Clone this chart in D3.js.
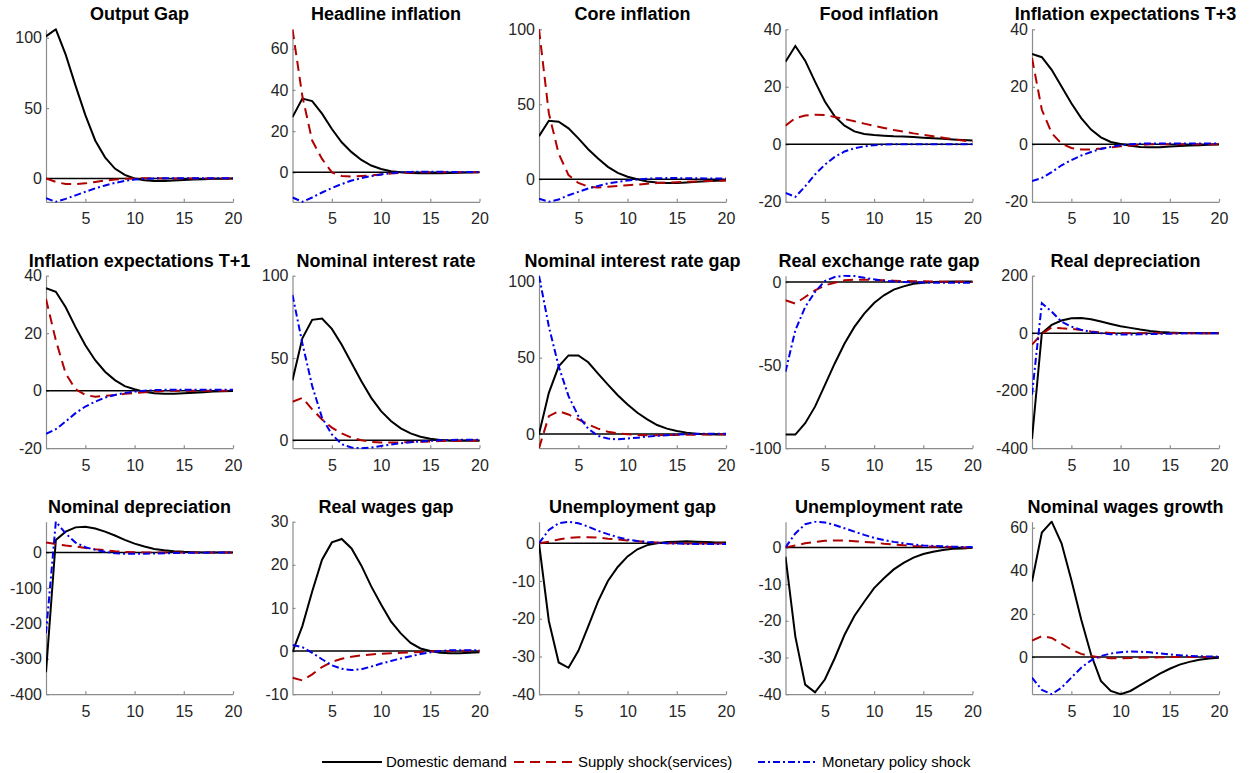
<!DOCTYPE html>
<html>
<head>
<meta charset="utf-8">
<script src="https://cdn.jsdelivr.net/npm/d3@7"></script>
<style>
body { margin: 0; background: #fff; }
svg { font-family: "Liberation Sans", Arial, sans-serif; }
.tick text { fill: #262626; font-size: 16px; }
.domain, .tick line { stroke: #8c8c8c; stroke-width: 1.2; }
</style>
</head>
<body>
<svg width="1252" height="773"></svg>
<script>
var titles = ["Output Gap", "Headline inflation", "Core inflation", "Food inflation", "Inflation expectations T+3",
    "Inflation expectations T+1", "Nominal interest rate", "Nominal interest rate gap", "Real exchange rate gap", "Real depreciation",
    "Nominal depreciation", "Real wages gap", "Unemployment gap", "Unemployment rate", "Nominal wages growth"];

var periods = d3.range(1, 21);
var xTicks = [5, 10, 15, 20];

var yLow  = [-16.6, -14.3, -15.1, -20, -20, -20, -4.8, -9.3, -100, -400, -400, -10, -40, -40, -17.2];
var yHigh = [106, 69.4, 100, 40, 40, 40, 100, 103.7, 3.8, 200, 87, 30, 5.7, 7, 62.8];
var yTicks = [[0, 50, 100], [0, 20, 40, 60], [0, 50, 100], [-20, 0, 20, 40], [-20, 0, 20, 40],
    [-20, 0, 20, 40], [0, 50, 100], [0, 50, 100], [-100, -50, 0], [-400, -200, 0, 200],
    [-400, -300, -200, -100, 0], [-10, 0, 10, 20, 30], [-40, -30, -20, -10, 0], [-40, -30, -20, -10, 0], [0, 20, 40, 60]];

// Domestic demand
var demand = [
    [101, 106, 88, 66, 45, 27, 15, 7, 2.5, 0, -1.3, -1.8, -1.8, -1.5, -1.1, -0.8, -0.5, -0.3, -0.2, -0.1],
    [26.8, 35.8, 34.6, 28.5, 21, 14.6, 9.8, 6, 3.3, 1.6, 0.5, 0, -0.3, -0.5, -0.5, -0.4, -0.3, -0.2, -0.1, 0],
    [28.7, 39, 38.3, 33.9, 27.2, 20, 13.8, 8.2, 4.2, 1.6, 0, -1.5, -2.3, -2.5, -2.5, -2.2, -1.8, -1.4, -1, -0.7],
    [28.7, 34.2, 29.1, 21.8, 14.9, 9.7, 6.5, 4.5, 3.6, 3.2, 3, 2.8, 2.7, 2.5, 2.3, 2.1, 1.9, 1.7, 1.5, 1.3],
    [31.4, 30.3, 25.9, 20.1, 14.3, 9.1, 5.1, 2.4, 0.8, 0.1, -0.5, -0.9, -1, -1, -0.8, -0.6, -0.4, -0.3, -0.2, -0.1],
    [35.7, 34.4, 29, 22.1, 15.8, 10.6, 6.6, 3.7, 1.6, 0.5, -0.4, -0.9, -1.1, -1.1, -0.9, -0.7, -0.5, -0.3, -0.2, -0.1],
    [36.5, 62, 73.2, 74, 67.7, 58, 47, 35.9, 25.8, 17.7, 11.7, 7.3, 4.2, 2.2, 1, 0.2, -0.2, -0.3, -0.3, -0.2],
    [0, 27, 44.3, 51.5, 51.5, 47, 39.6, 32.4, 25.4, 19.3, 13.9, 9.6, 5.9, 3.5, 2, 0.9, 0.2, -0.2, -0.3, -0.3],
    [-91.8, -91.8, -85, -75, -62, -49, -37, -27, -19, -12.6, -8, -4.6, -2.6, -1, -0.4, 0, 0.2, 0.3, 0.3, 0.3],
    [-368, 0, 29, 44, 52, 53, 48.5, 40.5, 32, 24, 18.5, 12.7, 8, 4.6, 2.3, 1, 0.3, 0, -0.2, -0.2],
    [-338, 35.5, 59, 71, 73, 68, 59, 48, 35.5, 25, 17, 10, 6.5, 3.7, 2, 1, 0.3, 0, -0.2, -0.2],
    [-0.2, 5.8, 13.8, 21.2, 25.2, 26, 23.8, 19.8, 15, 10.8, 6.9, 4.1, 1.9, 0.6, 0, -0.4, -0.5, -0.5, -0.4, -0.3],
    [0, -20.6, -31.6, -33, -28.5, -22, -15.4, -10, -6.3, -3.5, -1.6, -0.5, 0, 0.3, 0.4, 0.5, 0.4, 0.3, 0.2, 0.2],
    [-2.5, -24.3, -37.4, -39.5, -36, -30.2, -23.8, -18.7, -14.8, -11.1, -8.4, -6, -4.2, -2.8, -1.8, -1.2, -0.7, -0.4, -0.3, -0.1],
    [35, 57.8, 62.8, 52.8, 35.8, 17.4, 1.2, -11, -15.7, -17.2, -15.7, -13, -10.3, -7.7, -5.4, -3.5, -2.2, -1.2, -0.6, -0.3]
];

// Supply shock (services)
var supply = [
    [0, -2.5, -4, -4, -3.5, -2.5, -1.5, -0.8, -0.3, 0, 0.1, 0.1, 0, 0, 0, 0, 0, 0, 0, 0],
    [69.4, 37, 15.4, 6.5, 0, -1.8, -2, -1.8, -1.5, -1, -0.6, -0.3, -0.1, 0, 0, 0, 0, 0, 0, 0],
    [100, 44, 17, 2.7, -2.5, -5, -5.5, -5, -4.6, -4, -3.6, -3, -2.6, -2.3, -2, -1.7, -1.5, -1.3, -1.1, -0.9],
    [6.5, 9.1, 10, 10.3, 10.2, 9.5, 8.8, 8, 7.2, 6.4, 5.7, 5, 4.4, 3.8, 3.3, 2.8, 2.3, 1.8, 1.3, 0.8],
    [30, 12, 3.9, 0.2, -1.3, -1.8, -1.8, -1.5, -1.1, -0.7, -0.4, -0.2, 0, 0, 0, 0, 0, 0, 0, 0],
    [31.9, 17.5, 6, 0.5, -1.5, -2.1, -1.8, -1.5, -1.1, -0.8, -0.5, -0.3, -0.1, 0, 0, 0, 0, 0, 0, 0],
    [23.4, 25.8, 18.8, 12.7, 7.7, 4.2, 1.6, 0, -1, -1.4, -1.4, -1.3, -1.1, -0.9, -0.7, -0.5, -0.4, -0.3, -0.2, -0.1],
    [-9.3, 11.7, 15, 12.8, 9.6, 6.3, 3.5, 1.5, 0.4, -0.2, -0.6, -0.8, -0.8, -0.7, -0.6, -0.5, -0.4, -0.3, -0.2, -0.1],
    [-11, -13, -9, -5, -2, -0.4, 1, 1.4, 1.4, 1.2, 1, 0.8, 0.6, 0.5, 0.4, 0.3, 0.2, 0.1, 0.1, 0],
    [-40, -2, 20, 17, 15, 11, 6, 3, 1, 0, -0.5, -0.5, -0.4, -0.3, -0.2, -0.1, -0.1, 0, 0, 0],
    [28, 24, 19.6, 17, 13, 9.3, 6.5, 3.7, 1.8, 0.9, 0.3, 0, -0.2, -0.3, -0.3, -0.2, -0.2, -0.1, -0.1, 0],
    [-6.2, -6.8, -5.4, -3.7, -2.5, -1.8, -1.3, -1, -0.8, -0.6, -0.5, -0.4, -0.3, -0.2, -0.1, 0, 0, 0.1, 0.1, 0.1],
    [0, 0.4, 1, 1.4, 1.6, 1.6, 1.5, 1.2, 1, 0.7, 0.5, 0.3, 0.2, 0, 0, -0.1, -0.1, -0.1, -0.1, -0.1],
    [0, 0.5, 1.1, 1.5, 1.8, 1.9, 1.9, 1.7, 1.5, 1.3, 1, 0.8, 0.6, 0.4, 0.3, 0.2, 0.1, 0.1, 0, 0],
    [7.7, 9.7, 8.9, 6.2, 3.5, 1.5, 0.5, -0.2, -0.5, -0.5, -0.4, -0.3, -0.2, -0.1, 0, 0, 0, 0, 0, 0]
];

// Monetary policy shock
var monetary = [
    [-14, -16.6, -14.5, -12, -9.5, -7, -5, -3.2, -1.8, -0.8, -0.2, 0, 0.2, 0.2, 0.2, 0.2, 0.2, 0.2, 0.2, 0.2],
    [-12.2, -14.3, -12.2, -9.8, -7.6, -5.7, -4, -2.8, -1.8, -1, -0.4, 0, 0.2, 0.3, 0.3, 0.3, 0.2, 0.2, 0.1, 0.1],
    [-13, -15.1, -13.6, -10.7, -8.5, -6.2, -4.5, -2.9, -1.8, -0.9, -0.2, 0.3, 0.6, 0.7, 0.7, 0.6, 0.6, 0.5, 0.5, 0.4],
    [-16.9, -18.3, -14.6, -10.5, -7.1, -4.4, -2.5, -1.4, -0.7, -0.3, -0.1, 0, 0, 0, 0, 0, 0, 0, 0, 0],
    [-12.8, -11.7, -9.7, -7.3, -5.5, -3.9, -2.7, -1.6, -0.9, -0.3, 0, 0.2, 0.3, 0.3, 0.3, 0.3, 0.3, 0.3, 0.3, 0.3],
    [-15, -13.4, -10.7, -7.8, -5.5, -3.8, -2.4, -1.5, -0.8, -0.3, 0, 0.2, 0.3, 0.3, 0.3, 0.3, 0.3, 0.3, 0.3, 0.3],
    [88.3, 59, 33, 13.7, 3.6, -2.4, -4.4, -4.8, -4.4, -3.4, -2.6, -1.8, -1.2, -0.7, -0.3, 0, 0.2, 0.3, 0.3, 0.3],
    [103.7, 70.4, 44.3, 24.8, 11.7, 3.5, -1.3, -3, -3.5, -3, -2.4, -1.7, -1.2, -0.8, -0.4, -0.1, 0.1, 0.2, 0.2, 0.2],
    [-54, -29, -15, -6, 0.6, 3, 3.8, 3.6, 2.6, 1.6, 0.8, 0.3, 0, -0.2, -0.3, -0.4, -0.4, -0.4, -0.4, -0.4],
    [-214, 104, 75, 40, 23, 11.5, 4.6, 0, -3.5, -4.6, -4.5, -4, -3, -2.3, -1.5, -1, -0.5, -0.3, -0.1, 0],
    [-228, 87, 54, 28, 15, 7.5, 2, -2, -3.7, -3.7, -3.3, -2.8, -2.2, -1.6, -1.1, -0.7, -0.4, -0.2, -0.1, 0],
    [1.4, 0.9, -0.4, -1.9, -3.3, -4.1, -4.4, -4.2, -3.6, -2.9, -2.3, -1.7, -1.2, -0.7, -0.3, 0, 0.2, 0.2, 0.2, 0.2],
    [0, 3.5, 5.3, 5.7, 5.3, 4.4, 3.3, 2.4, 1.6, 1, 0.6, 0.3, 0.1, 0, -0.1, -0.2, -0.2, -0.2, -0.2, -0.2],
    [0, 3.8, 6.3, 7, 6.8, 6.1, 5.2, 4.3, 3.4, 2.6, 2, 1.5, 1.1, 0.8, 0.5, 0.4, 0.3, 0.2, 0.1, 0.1],
    [-9.5, -15.2, -17.2, -14.2, -9.5, -4.9, -1.5, 0.5, 1.7, 2.3, 2.6, 2.5, 2.2, 1.7, 1.2, 0.9, 0.6, 0.4, 0.3, 0.2]
];

var seriesNames = ["Domestic demand", "Supply shock(services)", "Monetary policy shock"];
var seriesData = [demand, supply, monetary];
var seriesColor = ["#000000", "#b00000", "#0000ee"];
var seriesDash = [null, "10,6", "7,3,2,3"];

var svg = d3.select("svg");

// subplot grid, 3 rows x 5 columns
var colLeft = [46, 292.5, 539, 785.5, 1032];
var rowTop = [29.3, 275.7, 521.7];
var pw = 187, ph = 172.5;

var x = d3.scaleLinear().domain([1, 20]).range([0, pw]);
var plain = function(d) { return String(d); };  // hyphen minus, like the original

titles.forEach(function(title, i) {
    var r = Math.floor(i / 5), c = i % 5;
    var g = svg.append("g").attr("transform", "translate(" + colLeft[c] + "," + rowTop[r] + ")");
    var y = d3.scaleLinear().domain([yLow[i], yHigh[i]]).range([ph, 0]);

    g.append("clipPath").attr("id", "clip" + i)
        .append("rect").attr("x", 0).attr("y", -1).attr("width", pw + 1).attr("height", ph + 2);

    g.append("g").attr("transform", "translate(0," + ph + ")")
        .call(d3.axisBottom(x).tickValues(xTicks).tickFormat(plain)
            .tickSizeInner(-3).tickSizeOuter(0).tickPadding(11));
    g.append("g")
        .call(d3.axisLeft(y).tickValues(yTicks[i]).tickFormat(plain)
            .tickSizeInner(-3).tickSizeOuter(0).tickPadding(4));

    var plot = g.append("g").attr("clip-path", "url(#clip" + i + ")");

    plot.append("line")
        .attr("x1", x(1)).attr("x2", x(20))
        .attr("y1", y(0)).attr("y2", y(0))
        .attr("stroke", "#000").attr("stroke-width", 1.5);

    var line = d3.line()
        .x(function(d, k) { return x(periods[k]); })
        .y(function(d) { return y(d); });

    seriesData.forEach(function(s, k) {
        plot.append("path")
            .attr("d", line(s[i]))
            .attr("fill", "none")
            .attr("stroke", seriesColor[k])
            .attr("stroke-width", 2)
            .attr("stroke-dasharray", seriesDash[k]);
    });

    g.append("text")
        .attr("x", pw / 2).attr("y", -9)
        .attr("text-anchor", "middle")
        .style("font-size", "18px").style("font-weight", "bold")
        .text(title);
});

// legend
var legX = [322, 514, 758];
var legend = svg.append("g").attr("transform", "translate(0,762)");
seriesNames.forEach(function(name, k) {
    legend.append("line")
        .attr("x1", legX[k]).attr("x2", legX[k] + 60)
        .attr("y1", 0).attr("y2", 0)
        .attr("stroke", seriesColor[k]).attr("stroke-width", 2)
        .attr("stroke-dasharray", seriesDash[k]);
    legend.append("text")
        .attr("x", legX[k] + 64).attr("y", 5)
        .style("font-size", "15px").attr("fill", "#000")
        .text(name);
});
</script>
</body>
</html>
